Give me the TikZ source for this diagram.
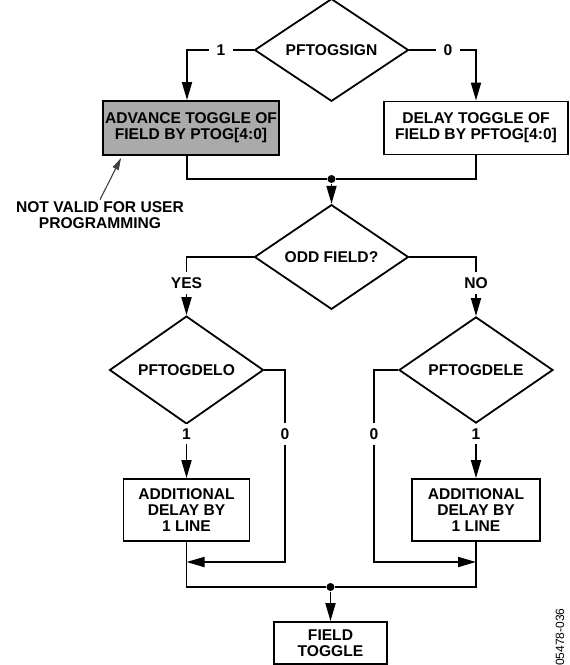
\documentclass[tikz,border=0pt]{standalone}
\usepackage{fontspec}
\setmainfont{Liberation Sans}
\usetikzlibrary{shapes.geometric,arrows.meta}
\definecolor{boxgray}{RGB}{170,170,170}
\begin{document}
\begin{tikzpicture}[x=1pt,y=-1pt,
  font=\fontsize{15.6}{16}\selectfont\bfseries,
  line width=1.8pt,
  >={Triangle[length=18pt,width=10pt]},
  box/.style={draw,rectangle,align=center,inner sep=0pt},
  decision/.style={draw,diamond,inner sep=0pt,minimum width=154pt,minimum height=84pt},
  lbl/.style={fill=white,inner xsep=8pt,inner ysep=5pt},
  junction/.style={circle,fill,inner sep=0pt,minimum size=8pt},
  note/.style={align=center,inner sep=1pt},
  pointer/.style={line width=1.1pt,black!75,-{Triangle[length=12pt,width=6.5pt]}}]
\useasboundingbox (0,0) rectangle (570,665);

% decisions
\node[decision] (sign) at (331.5,50) {PFTOGSIGN};
\node[decision] (odd)  at (331.5,257) {ODD FIELD?};
\node[decision] (delo) at (186.5,370) {PFTOGDELO};
\node[decision] (dele) at (476,370) {PFTOGDELE};

% actions
\node[box,fill=boxgray,minimum width=176pt,minimum height=54pt] (adv) at (191,128)
  {ADVANCE TOGGLE OF\\FIELD BY PTOG[4:0]};
\node[box,minimum width=184pt,minimum height=53pt] (dly) at (476,128)
  {DELAY TOGGLE OF\\FIELD BY PFTOG[4:0]};
\node[box,minimum width=126pt,minimum height=62pt] (addl) at (186.5,510)
  {ADDITIONAL\\DELAY BY\\1 LINE};
\node[box,minimum width=128pt,minimum height=62pt] (addr) at (476,510)
  {ADDITIONAL\\DELAY BY\\1 LINE};
\node[box,minimum width=113pt,minimum height=42pt] (ft) at (330.5,643)
  {FIELD\\TOGGLE};

% junctions and corner points
\node[junction] (j1) at (331.5,179) {};
\node[junction] (j2) at (330.5,587) {};
\coordinate (r0) at (285,562);
\coordinate (l0) at (374,562);

% connectors
\draw[->] (sign.west) -| ([xshift=-4pt]adv.north);
\draw[->] (sign.east) -| (dly.north);
\draw ([xshift=-4pt]adv.south) |- (j1) -| (dly.south);
\draw[->] (j1) -- (odd.north);
\draw[->] (odd.west) -| (delo.north);
\draw[->] (odd.east) -| (dele.north);
\draw[->] (delo.south) -- (addl.north);
\draw[->] (dele.south) -- (addr.north);
\draw[->] (delo.east) -| (r0) -- (addl.south |- r0);
\draw[->] (dele.west) -| (l0) -- (addr.south |- l0);
\draw (addl.south) |- (j2) -| (addr.south);
\draw[->] (j2) -- (ft.north);

% branch labels
\node[lbl] (s1) at (221,50) {1};
\node[lbl] (s0) at (448,50) {0};
\node[lbl] (yes) at (186.5,283) {YES};
\node[lbl] (no) at (476,283) {NO};
\node[lbl] (o1) at (186.5,434) {1};
\node[lbl] (o0) at (285,434) {0};
\node[lbl] (e0) at (374,434) {0};
\node[lbl] (e1) at (476,434) {1};

% annotation
\node[note] (nv) at (100,215) {NOT VALID FOR USER\\PROGRAMMING};
\draw[pointer] (nv.north) -- ([xshift=19pt,yshift=-2pt]adv.south west);

% figure number
\node[rotate=90,font=\fontsize{12}{14}\selectfont] (fig) at (560,637) {05478-036};
\end{tikzpicture}
\end{document}
